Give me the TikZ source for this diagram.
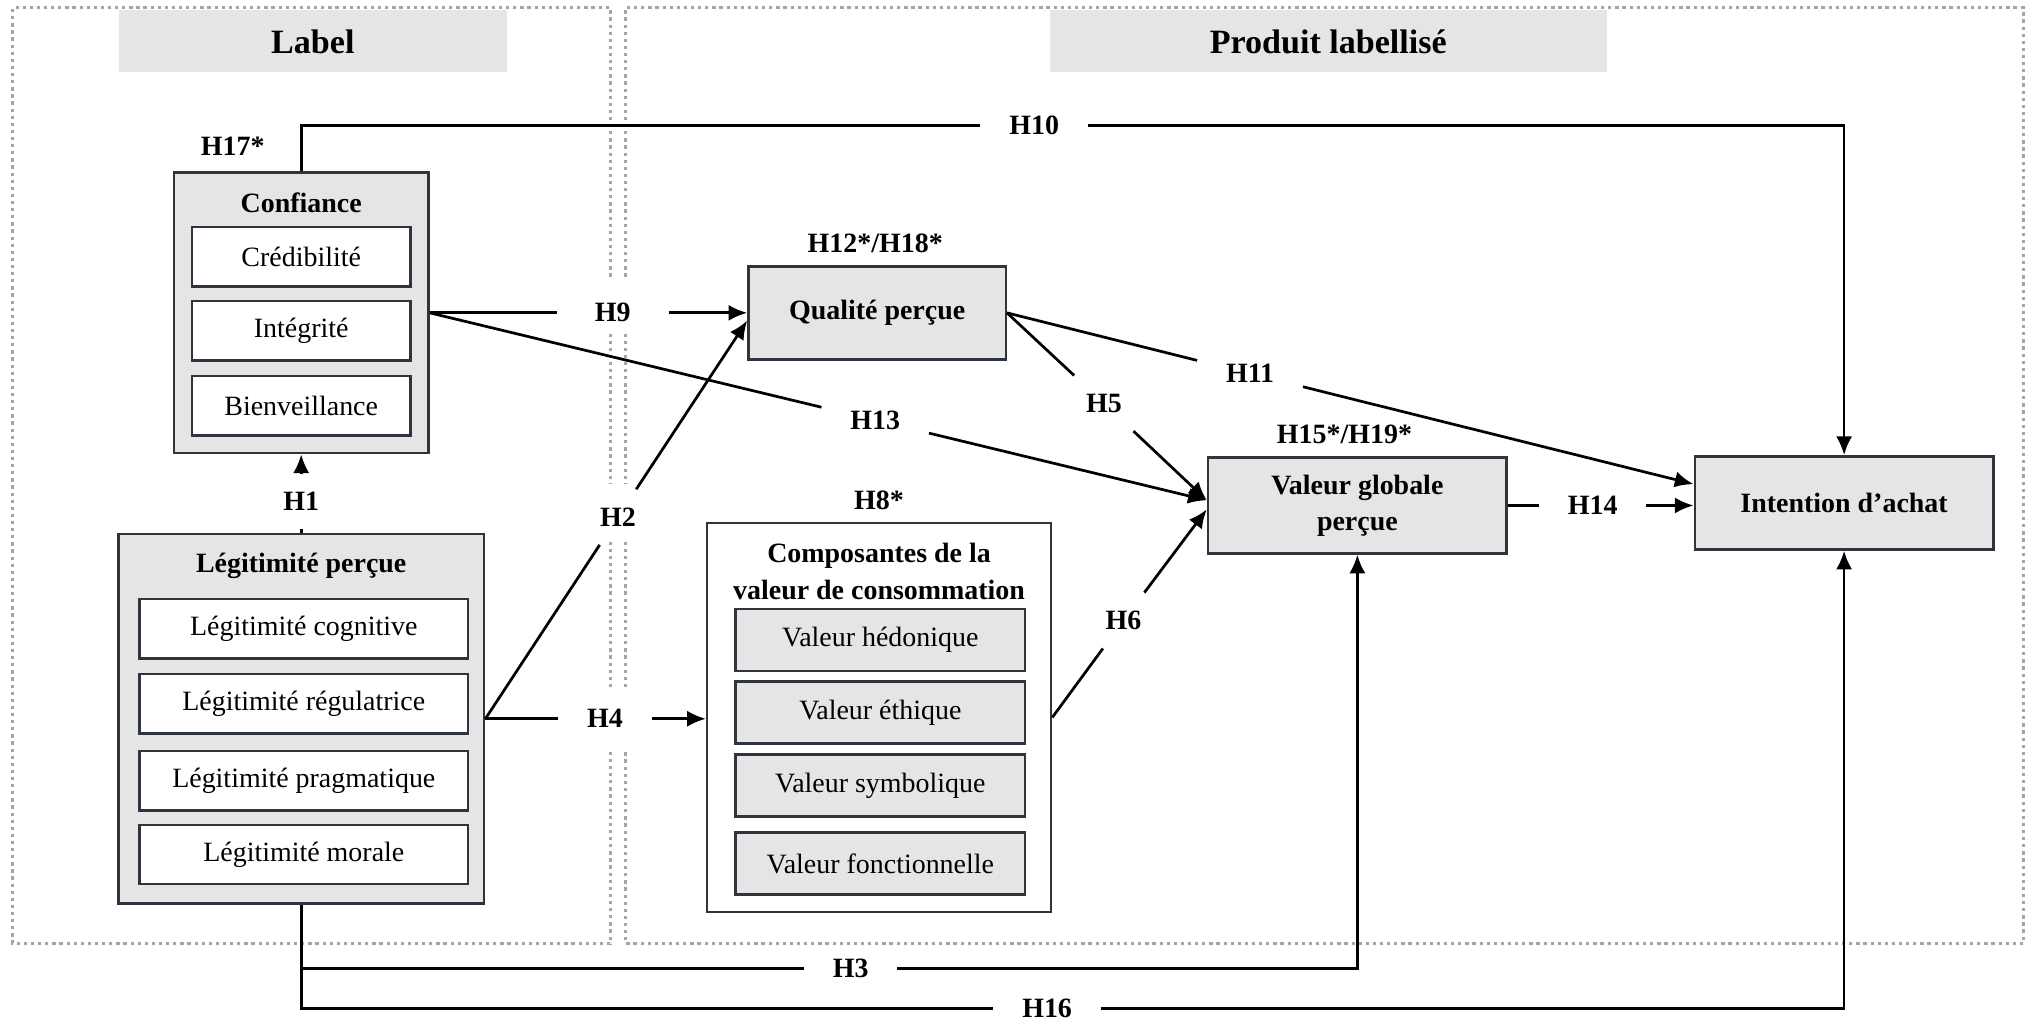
\documentclass[tikz,border=0pt]{standalone}
\usepackage{fontspec}
\setmainfont{Liberation Serif}
\usetikzlibrary{arrows.meta}
\definecolor{boxline}{RGB}{47,53,62}
\definecolor{zonegray}{RGB}{165,165,165}

\begin{document}
\begin{tikzpicture}
  [
    x=0.2mm, y=-0.2mm,
    zone/.style={zonegray, line width=0.45mm, dash pattern=on 0.5mm off 0.6mm},
    header/.style={fill=black!10, inner sep=0pt, font=\fontsize{15}{17}\selectfont\bfseries},
    bigbox/.style={draw=boxline, line width=1.1pt, fill=black!10, inner sep=0pt},
    subbox/.style={draw=boxline, line width=1.1pt, fill=white, inner sep=0pt, font=\fontsize{12.3}{14}\selectfont},
    boxtitle/.style={font=\fontsize{12.3}{16}\selectfont\bfseries, align=center},
    hyp/.style={inner xsep=4.4mm, inner ysep=2.8mm, font=\fontsize{12.3}{14}\selectfont\bfseries},
    link/.style={line width=1.2pt},
    arr/.style={line width=1.2pt, -{Latex[length=2.9mm,width=2.5mm]}},
    wh/.style 2 args={minimum width=#1*0.2mm, minimum height=#2*0.2mm}
  ]
  \useasboundingbox (0,0) rectangle (1568,790);

  % zones
  \draw[zone] (472,214) -- (472,6) -- (10,6) -- (10,730) -- (472,730) -- (472,579);
  \draw[zone] (484,214) -- (484,6) -- (1565,6) -- (1565,730) -- (484,730) -- (484,579);
  \foreach \x in {472,484} {
    \draw[zone] (\x,258) -- (\x,374);
    \draw[zone] (\x,419) -- (\x,532);
  }
  \node[header, wh={300}{48}] (hlabel) at (242,32) {Label};
  \node[header, wh={431}{48}] (hprod) at (1027.5,32) {Produit labellisé};

  % Confiance
  \node[bigbox, wh={197}{217}] (conf) at (233,242) {};
  \node[boxtitle] (conft) at (233,157) {Confiance};
  \node[subbox, wh={169}{46}] (cred) at (233,198.5) {Crédibilité};
  \node[subbox, wh={169}{46}] (integ) at (233,256) {Intégrité};
  \node[subbox, wh={169}{46}] (bienv) at (233,314) {Bienveillance};

  % Legitimite percue
  \node[bigbox, wh={283}{286}] (legit) at (233,556) {};
  \node[boxtitle] (legitt) at (233,437.5) {Légitimité perçue};
  \foreach \y/\n/\t in {486.5/lcog/cognitive, 544.5/lreg/régulatrice,
                        604/lprag/pragmatique, 661/lmor/morale} {
    \node[subbox, wh={254}{46}] (\n) at (235,\y) {Légitimité \t};
  }

  % Qualite, valeur, intention
  \node[bigbox, boxtitle, wh={199}{72}] (qual) at (678.5,242) {Qualité perçue};
  \node[bigbox, boxtitle, wh={231}{74}] (valeur) at (1050,391) {Valeur globale\\perçue};
  \node[bigbox, boxtitle, wh={231}{72}] (intent) at (1426.5,389) {Intention d'achat};

  % Composantes
  \node[bigbox, fill=white, wh={266}{301}] (compo) at (680,555) {};
  \node[boxtitle] (compot) at (680,442) {Composantes de la\\valeur de consommation};
  \foreach \y/\n/\t in {495/vhed/hédonique, 551/veth/éthique,
                        607.5/vsym/symbolique, 668/vfonc/fonctionnelle} {
    \node[subbox, fill=black!10, wh={224}{48}] (\n) at (681,\y) {Valeur \t};
  }

  % hypotheses
  \node[hyp] (h17) at (180,113) {H17*};
  \node[hyp] (h12) at (677,188) {H12*/H18*};
  \node[hyp] (h15) at (1040,336) {H15*/H19*};
  \node[hyp] (h8) at (680,387) {H8*};
  \node[hyp] (h10) at (800,97) {H10};
  \node[hyp, inner xsep=5.8mm] (h9) at (474,242) {H9};
  \node[hyp] (h13) at (677,325) {H13};
  \node[hyp] (h11) at (967,289) {H11};
  \node[hyp] (h5) at (854,312) {H5};
  \node[hyp] (h14) at (1232,391) {H14};
  \node[hyp] (h1) at (233,388) {H1};
  \node[hyp] (h2) at (478,400) {H2};
  \node[hyp] (h4) at (468,556) {H4};
  \node[hyp] (h6) at (869,480) {H6};
  \node[hyp] (h3) at (658,749) {H3};
  \node[hyp] (h16) at (810,780) {H16};

  % links
  \draw[link] (legit.north) -- (h1);
  \draw[arr] (h1) -- (h1 |- conf.south);
  \draw[link] (conf.north) |- (h10);
  \draw[arr] (h10) -| (intent.north);
  \draw[link] (conf.east) -- (h9);
  \draw[arr] (h9) -- (h9 -| qual.west);
  \draw[link] (conf.east) -- (h13);
  \draw[arr] (h13) -- ([yshift=0.8mm]valeur.west);
  \draw[link] (legit.east) -- (h2);
  \draw[arr] (h2) -- ([yshift=-1.2mm]qual.west);
  \draw[link] (legit.east) -- (h4);
  \draw[arr] (h4) -- (h4 -| compo.west);
  \draw[link] (qual.east) -- (h5);
  \draw[arr] (h5) -- ([yshift=0.8mm]valeur.west);
  \draw[link] (qual.east) -- (h11);
  \draw[arr] (h11) -- ([yshift=2.9mm]intent.west);
  \draw[link] (compo.east) -- (h6);
  \draw[arr] (h6) -- ([yshift=-0.6mm]valeur.west);
  \draw[link] (valeur.east) -- (h14);
  \draw[arr] (h14) -- (h14 -| intent.west);
  \draw[link] (legit.south) |- (h3);
  \draw[arr] (h3) -| (valeur.south);
  \draw[link] (legit.south) |- (h16);
  \draw[arr] (h16) -| (intent.south);
\end{tikzpicture}
\end{document}
